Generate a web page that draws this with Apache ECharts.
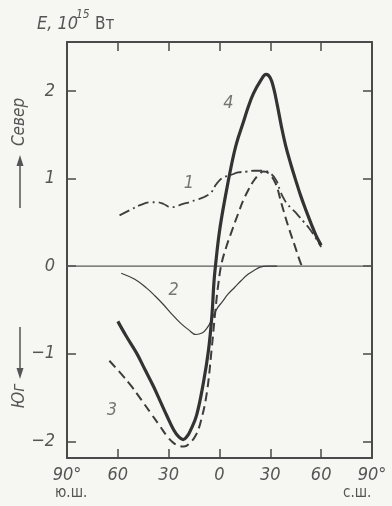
<!DOCTYPE html>
<html>
<head>
<meta charset="utf-8">
<script src="https://cdn.jsdelivr.net/npm/echarts@6/dist/echarts.min.js"></script>
<style>
html,body{margin:0;padding:0;background:#f6f6f3;}
#c{width:392px;height:506px;}
</style>
</head>
<body>
<div id="c"></div>
<script>
// ---- data ----
const xTickValues = [-60, -30, 0, 30, 60];
const xLabelValues = [-90, -60, -30, 0, 30, 60, 90];
const xLabelTexts = ['90°', '60', '30', '0', '30', '60', '90°'];
const yTickValues = [-2, -1, 0, 1, 2];
const yLabelTexts = ['−2', '−1', '0', '1', '2'];

// curve 1: dash-dot
const curve1 = [[-59,0.58],[-53,0.64],[-46.5,0.70],[-41,0.73],[-37,0.73],[-33,0.71],[-29,0.675],[-26,0.68],[-22,0.71],[-18,0.73],[-13.5,0.76],[-9,0.79],[-5,0.84],[-2.5,0.92],[0,0.98],[3,1.02],[6.5,1.04],[11,1.07],[16,1.08],[20,1.09],[26,1.09],[30,1.06],[33.5,0.98],[36,0.85],[38,0.77],[40,0.71],[43,0.65],[46,0.59],[50,0.5],[53,0.43],[56.5,0.33],[60,0.22]];
// curve 2: thin solid
const curve2 = [[-58,-0.08],[-50,-0.15],[-43,-0.25],[-38,-0.34],[-33,-0.44],[-28,-0.55],[-23,-0.65],[-18,-0.73],[-14,-0.78],[-10,-0.76],[-7.5,-0.71],[-5,-0.63],[-3.5,-0.56],[-1,-0.47],[1.5,-0.41],[5,-0.32],[9,-0.24],[13,-0.16],[17,-0.09],[21,-0.04],[24,-0.01],[28,0],[34,0]];
// curve 3: dashed
const curve3 = [[-65,-1.08],[-58,-1.23],[-52,-1.37],[-46,-1.53],[-40.5,-1.68],[-35,-1.83],[-31,-1.94],[-27,-2.02],[-24,-2.05],[-21,-2.06],[-18,-2.03],[-14,-1.93],[-11,-1.77],[-7.5,-1.45],[-4.7,-0.96],[-2.4,-0.5],[-0.6,-0.19],[1.2,0.03],[4,0.22],[6.5,0.36],[11,0.6],[14,0.75],[17,0.87],[20,0.97],[23,1.04],[26,1.08],[29,1.06],[33,0.95],[36.5,0.72],[40.5,0.46],[44.5,0.23],[48,0.03],[49,0]];
// curve 4: thick solid (total)
const curve4 = [[-60,-0.63],[-55,-0.80],[-49,-0.99],[-44,-1.18],[-39,-1.37],[-35,-1.54],[-31,-1.71],[-27,-1.87],[-24,-1.95],[-21.5,-1.98],[-19,-1.94],[-17,-1.87],[-13.5,-1.70],[-9.5,-1.33],[-6.5,-0.96],[-4.5,-0.57],[-3.3,-0.19],[-2.4,0],[0,0.4],[3.5,0.8],[7,1.15],[10,1.40],[14,1.64],[17,1.82],[20,1.97],[24,2.11],[27.5,2.19],[30,2.15],[32,2.03],[34,1.85],[36.5,1.6],[39,1.38],[42,1.17],[45,0.98],[48,0.8],[51,0.64],[54,0.49],[57,0.35],[60,0.24]];
const zeroLine = [[-90,0],[90,0]];

// curve number labels (data coordinates)
const curveLabels = [
  {name:'1', value:[-18, 0.95]},
  {name:'2', value:[-27, -0.27]},
  {name:'3', value:[-63.5, -1.64]},
  {name:'4', value:[5.3, 1.86]}
];

const INK = '#3d3d3d';
const TXT = '#555555';
const FONT = '"DejaVu Sans Condensed","Liberation Sans Narrow","DejaVu Sans",sans-serif';

const chart = echarts.init(document.getElementById('c'), null, {renderer:'canvas'});

const axisCommon = {
  type:'value',
  splitLine:{show:false},
  axisLine:{show:true, onZero:false, lineStyle:{color:'#4a4a4a', width:2}},
  axisTick:{show:true, inside:true, length:9, lineStyle:{color:'#4a4a4a', width:1.5}}
};

const lineCommon = {type:'line', smooth:0.4, showSymbol:false};

const option = {
  backgroundColor:'#f6f6f3',
  animation:false,
  grid:{left:67, right:20, top:42, bottom:48, containLabel:false},
  xAxis:[
    Object.assign({}, axisCommon, {
      min:-90, max:90, position:'bottom',
      axisTick:Object.assign({}, axisCommon.axisTick, {customValues:xTickValues}),
      axisLabel:{show:true, customValues:xLabelValues, margin:8,
        color:TXT, fontSize:18, fontStyle:'italic', fontFamily:FONT,
        formatter:(v)=>{const i=xLabelValues.indexOf(Math.round(v)); return i>=0?xLabelTexts[i]:'';}}
    }),
    Object.assign({}, axisCommon, {
      min:-90, max:90, position:'top',
      axisTick:Object.assign({}, axisCommon.axisTick, {customValues:xTickValues}),
      axisLabel:{show:false}
    })
  ],
  yAxis:[
    Object.assign({}, axisCommon, {
      min:-2.19, max:2.56, position:'left',
      axisTick:Object.assign({}, axisCommon.axisTick, {customValues:yTickValues}),
      axisLabel:{show:true, customValues:yTickValues, margin:12,
        color:TXT, fontSize:18, fontStyle:'italic', fontFamily:FONT,
        formatter:(v)=>{const i=yTickValues.indexOf(Math.round(v)); return i>=0?yLabelTexts[i]:'';}}
    }),
    Object.assign({}, axisCommon, {
      min:-2.19, max:2.56, position:'right',
      axisTick:Object.assign({}, axisCommon.axisTick, {customValues:yTickValues}),
      axisLabel:{show:false}
    })
  ],
  series:[
    {type:'line', data:zeroLine, showSymbol:false, silent:true,
     lineStyle:{color:'#5a5a5a', width:1.3}},
    Object.assign({}, lineCommon, {data:curve2, lineStyle:{color:INK, width:1.2}}),
    Object.assign({}, lineCommon, {data:curve1, lineStyle:{color:INK, width:1.8, type:[11,4,2,4]}}),
    Object.assign({}, lineCommon, {data:curve3, lineStyle:{color:INK, width:2, type:[9,5]}}),
    Object.assign({}, lineCommon, {data:curve4, lineStyle:{color:'#333333', width:3.2}}),
    {type:'scatter', data:curveLabels, symbolSize:0,
     label:{show:true, formatter:'{b}', position:'inside', color:TXT,
       fontSize:18, fontStyle:'italic', fontFamily:FONT}}
  ],
  graphic:[
    // title
    {type:'text', left:37, top:15, style:{text:'E, 10', fill:TXT, font:'italic 18px '+FONT}},
    {type:'text', left:76, top:9, style:{text:'15', fill:TXT, font:'italic 12px '+FONT}},
    {type:'text', left:95, top:16, style:{text:'Вт', fill:TXT, font:'17px '+FONT}},
    // "→ Север"
    {type:'line', shape:{x1:20, y1:208, x2:20, y2:160}, style:{stroke:'#555', lineWidth:1.5}},
    {type:'polygon', shape:{points:[[20,155],[16.5,166],[23.5,166]]}, style:{fill:'#555'}},
    {type:'text', x:20, y:122, rotation:Math.PI/2,
     style:{text:'Север', fill:TXT, font:'italic 17px '+FONT, align:'center', verticalAlign:'middle'}},
    // "Юг ←"
    {type:'line', shape:{x1:20, y1:327, x2:20, y2:374}, style:{stroke:'#555', lineWidth:1.5}},
    {type:'polygon', shape:{points:[[20,379],[16.5,368],[23.5,368]]}, style:{fill:'#555'}},
    {type:'text', x:20, y:396, rotation:Math.PI/2,
     style:{text:'Юг', fill:TXT, font:'italic 17px '+FONT, align:'center', verticalAlign:'middle'}},
    // hemisphere labels
    {type:'text', left:55, top:486, style:{text:'ю.ш.', fill:TXT, font:'15px '+FONT}},
    {type:'text', left:343, top:486, style:{text:'с.ш.', fill:TXT, font:'15px '+FONT}}
  ]
};
chart.setOption(option);
</script>
</body>
</html>
